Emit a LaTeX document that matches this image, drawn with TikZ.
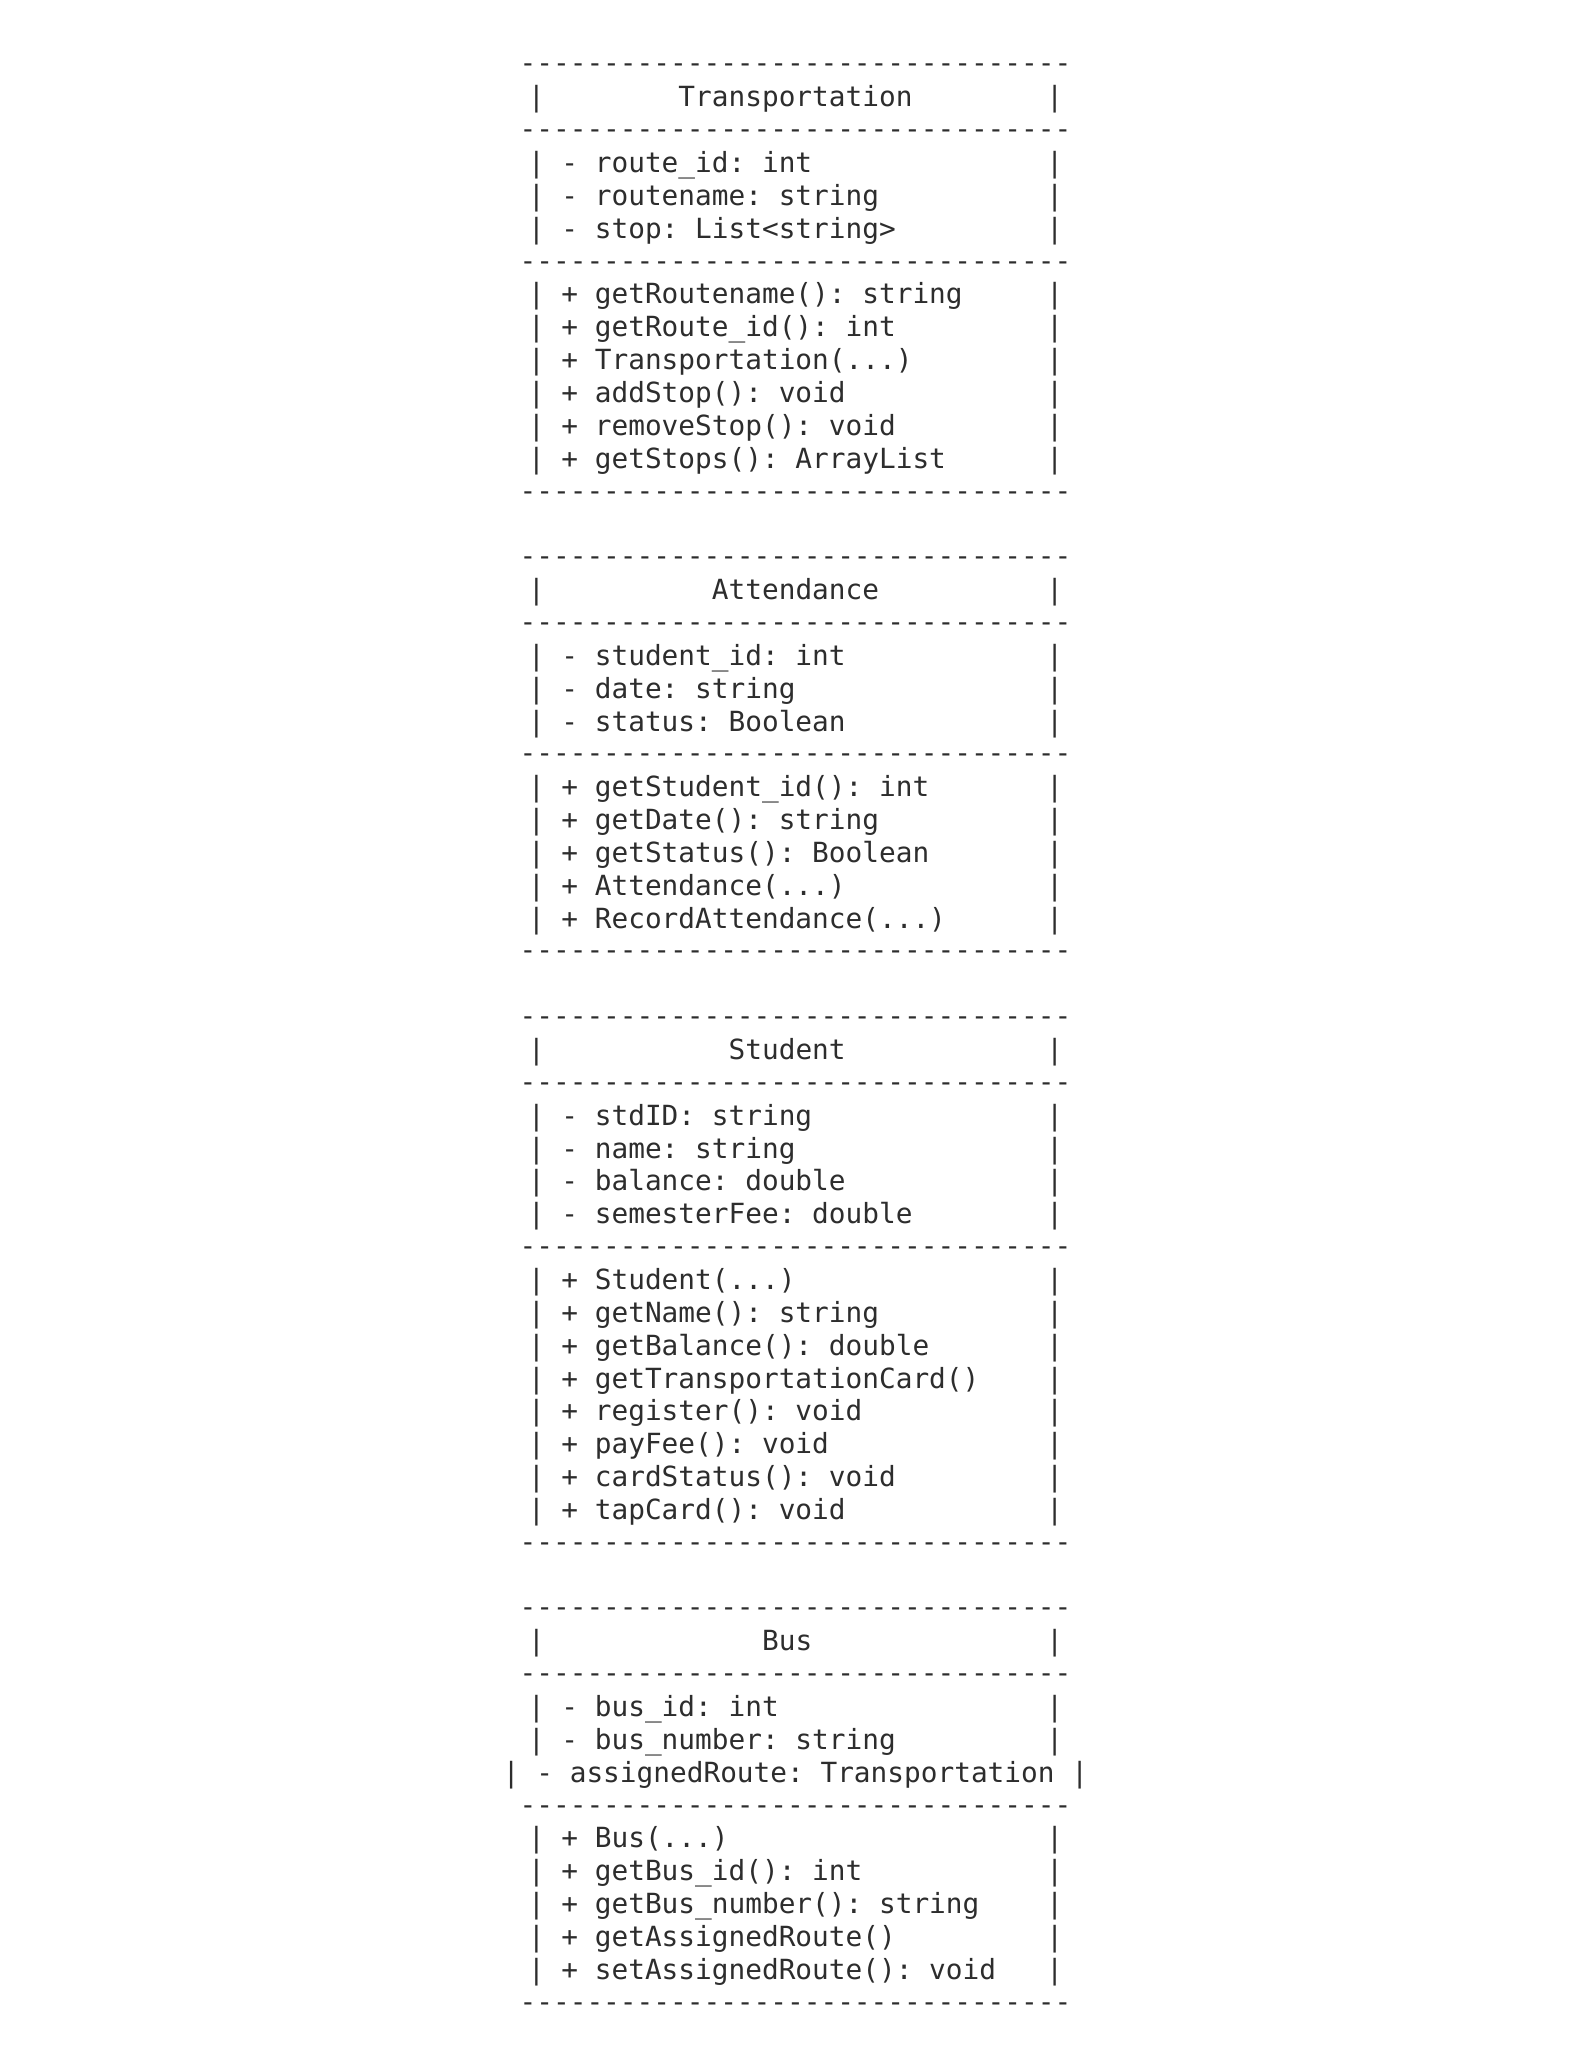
\documentclass[tikz,border=0pt]{standalone}
\usepackage{fontspec}
\setmonofont{DejaVu Sans Mono}
\definecolor{ink}{RGB}{45,45,45}
\newcommand\rowl[1]{|~\makebox[16.8574em][l]{#1}~|}
\newcommand\dashrow{---------------------------------}
\tikzset{txtrow/.style={anchor=base, inner sep=0pt, outer sep=0pt, text=ink,
  font=\ttfamily\fontsize{13.885pt}{16pt}\selectfont},
  dashline/.style={txtrow, yshift=0.5pt}}
\newcommand\cx{795.5}
\begin{document}
\begin{tikzpicture}[x=0.5pt,y=-0.5pt]
\fill[white] (0,0) rectangle (1589,2070);
\path[use as bounding box] (0,0) rectangle (1589,2070);
% Transportation
\node[dashline] (l0) at (\cx,{74+32.85*0}) {\dashrow};
\node[txtrow] (l1) at (\cx,{74+32.85*1}) {\rowl{~~~~~~~Transportation}};
\node[dashline] (l2) at (\cx,{74+32.85*2}) {\dashrow};
\node[txtrow] (l3) at (\cx,{74+32.85*3}) {\rowl{- route\_id: int}};
\node[txtrow] (l4) at (\cx,{74+32.85*4}) {\rowl{- routename: string}};
\node[txtrow] (l5) at (\cx,{74+32.85*5}) {\rowl{- stop: List<string>}};
\node[dashline] (l6) at (\cx,{74+32.85*6}) {\dashrow};
\node[txtrow] (l7) at (\cx,{74+32.85*7}) {\rowl{+ getRoutename(): string}};
\node[txtrow] (l8) at (\cx,{74+32.85*8}) {\rowl{+ getRoute\_id(): int}};
\node[txtrow] (l9) at (\cx,{74+32.85*9}) {\rowl{+ Transportation(...)}};
\node[txtrow] (l10) at (\cx,{74+32.85*10}) {\rowl{+ addStop(): void}};
\node[txtrow] (l11) at (\cx,{74+32.85*11}) {\rowl{+ removeStop(): void}};
\node[txtrow] (l12) at (\cx,{74+32.85*12}) {\rowl{+ getStops(): ArrayList}};
\node[dashline] (l13) at (\cx,{74+32.85*13}) {\dashrow};
% Attendance
\node[dashline] (l15) at (\cx,{74+32.85*15}) {\dashrow};
\node[txtrow] (l16) at (\cx,{74+32.85*16}) {\rowl{~~~~~~~~~Attendance}};
\node[dashline] (l17) at (\cx,{74+32.85*17}) {\dashrow};
\node[txtrow] (l18) at (\cx,{74+32.85*18}) {\rowl{- student\_id: int}};
\node[txtrow] (l19) at (\cx,{74+32.85*19}) {\rowl{- date: string}};
\node[txtrow] (l20) at (\cx,{74+32.85*20}) {\rowl{- status: Boolean}};
\node[dashline] (l21) at (\cx,{74+32.85*21}) {\dashrow};
\node[txtrow] (l22) at (\cx,{74+32.85*22}) {\rowl{+ getStudent\_id(): int}};
\node[txtrow] (l23) at (\cx,{74+32.85*23}) {\rowl{+ getDate(): string}};
\node[txtrow] (l24) at (\cx,{74+32.85*24}) {\rowl{+ getStatus(): Boolean}};
\node[txtrow] (l25) at (\cx,{74+32.85*25}) {\rowl{+ Attendance(...)}};
\node[txtrow] (l26) at (\cx,{74+32.85*26}) {\rowl{+ RecordAttendance(...)}};
\node[dashline] (l27) at (\cx,{74+32.85*27}) {\dashrow};
% Student
\node[dashline] (l29) at (\cx,{74+32.85*29}) {\dashrow};
\node[txtrow] (l30) at (\cx,{74+32.85*30}) {\rowl{~~~~~~~~~~Student}};
\node[dashline] (l31) at (\cx,{74+32.85*31}) {\dashrow};
\node[txtrow] (l32) at (\cx,{74+32.85*32}) {\rowl{- stdID: string}};
\node[txtrow] (l33) at (\cx,{74+32.85*33}) {\rowl{- name: string}};
\node[txtrow] (l34) at (\cx,{74+32.85*34}) {\rowl{- balance: double}};
\node[txtrow] (l35) at (\cx,{74+32.85*35}) {\rowl{- semesterFee: double}};
\node[dashline] (l36) at (\cx,{74+32.85*36}) {\dashrow};
\node[txtrow] (l37) at (\cx,{74+32.85*37}) {\rowl{+ Student(...)}};
\node[txtrow] (l38) at (\cx,{74+32.85*38}) {\rowl{+ getName(): string}};
\node[txtrow] (l39) at (\cx,{74+32.85*39}) {\rowl{+ getBalance(): double}};
\node[txtrow] (l40) at (\cx,{74+32.85*40}) {\rowl{+ getTransportationCard()}};
\node[txtrow] (l41) at (\cx,{74+32.85*41}) {\rowl{+ register(): void}};
\node[txtrow] (l42) at (\cx,{74+32.85*42}) {\rowl{+ payFee(): void}};
\node[txtrow] (l43) at (\cx,{74+32.85*43}) {\rowl{+ cardStatus(): void}};
\node[txtrow] (l44) at (\cx,{74+32.85*44}) {\rowl{+ tapCard(): void}};
\node[dashline] (l45) at (\cx,{74+32.85*45}) {\dashrow};
% Bus
\node[dashline] (l47) at (\cx,{74+32.85*47}) {\dashrow};
\node[txtrow] (l48) at (\cx,{74+32.85*48}) {\rowl{~~~~~~~~~~~~Bus}};
\node[dashline] (l49) at (\cx,{74+32.85*49}) {\dashrow};
\node[txtrow] (l50) at (\cx,{74+32.85*50}) {\rowl{- bus\_id: int}};
\node[txtrow] (l51) at (\cx,{74+32.85*51}) {\rowl{- bus\_number: string}};
\node[txtrow] (l52) at (\cx,{74+32.85*52}) {|~-~assignedRoute:~Transportation~|};
\node[dashline] (l53) at (\cx,{74+32.85*53}) {\dashrow};
\node[txtrow] (l54) at (\cx,{74+32.85*54}) {\rowl{+ Bus(...)}};
\node[txtrow] (l55) at (\cx,{74+32.85*55}) {\rowl{+ getBus\_id(): int}};
\node[txtrow] (l56) at (\cx,{74+32.85*56}) {\rowl{+ getBus\_number(): string}};
\node[txtrow] (l57) at (\cx,{74+32.85*57}) {\rowl{+ getAssignedRoute()}};
\node[txtrow] (l58) at (\cx,{74+32.85*58}) {\rowl{+ setAssignedRoute(): void}};
\node[dashline] (l59) at (\cx,{74+32.85*59}) {\dashrow};
\end{tikzpicture}
\end{document}
